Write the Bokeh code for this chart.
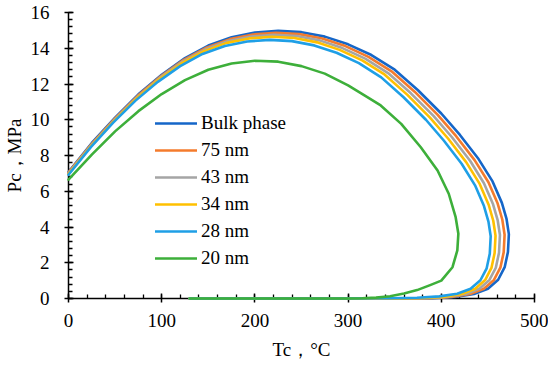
from bokeh.plotting import figure
from bokeh.models import Range1d, SingleIntervalTicker, Legend, LegendItem
from bokeh.embed import file_html
from bokeh.resources import INLINE

# ---- data ----
bulk_T = [0, 25, 50, 75, 100, 125, 150, 175, 200, 225, 250, 275, 300, 325, 350, 375, 400, 420, 440, 455, 465, 470, 472.5, 471.5, 468, 461, 450, 435, 415, 390, 360, 300, 130]
bulk_P = [7.07, 8.70, 10.12, 11.42, 12.52, 13.45, 14.15, 14.62, 14.88, 14.97, 14.90, 14.65, 14.22, 13.62, 12.80, 11.65, 10.35, 9.15, 7.80, 6.55, 5.35, 4.45, 3.60, 2.60, 1.75, 1.05, 0.55, 0.25, 0.08, 0.02, 0.005, 0.0, 0.0]

nm75_T = [0, 24.76, 49.52, 74.27, 99.03, 123.79, 148.55, 173.30, 198.06, 222.82, 247.58, 272.33, 297.09, 321.85, 346.61, 371.36, 396.12, 415.93, 435.73, 450.59, 460.49, 465.44, 467.92, 466.93, 463.46, 456.52, 445.64, 430.78, 410.97, 386.22, 356.51, 297.09, 130]
nm75_P = [7.04, 8.64, 10.05, 11.34, 12.43, 13.35, 14.05, 14.51, 14.77, 14.86, 14.79, 14.54, 14.12, 13.52, 12.71, 11.57, 10.27, 9.08, 7.74, 6.50, 5.31, 4.42, 3.57, 2.58, 1.74, 1.04, 0.55, 0.25, 0.08, 0.02, 0.005, 0.0, 0.0]

nm43_T = [0, 24.49, 48.99, 73.48, 97.97, 122.46, 146.96, 171.45, 195.94, 220.43, 244.93, 269.42, 293.91, 318.40, 342.90, 367.39, 391.88, 411.47, 431.07, 445.76, 455.56, 460.46, 462.91, 461.93, 458.50, 451.64, 440.87, 426.17, 406.58, 382.08, 352.69, 293.91, 130]
nm43_P = [7.00, 8.58, 9.97, 11.25, 12.34, 13.25, 13.94, 14.41, 14.66, 14.75, 14.68, 14.44, 14.01, 13.42, 12.61, 11.48, 10.20, 9.02, 7.69, 6.45, 5.27, 4.39, 3.55, 2.56, 1.72, 1.04, 0.55, 0.25, 0.08, 0.02, 0.005, 0.0, 0.0]

nm34_T = [0, 24.24, 48.49, 72.73, 96.97, 121.21, 145.46, 169.70, 193.94, 218.18, 242.43, 266.67, 290.91, 315.15, 339.40, 363.64, 387.88, 407.27, 426.67, 441.21, 450.91, 455.76, 458.18, 457.21, 453.82, 447.03, 436.37, 421.82, 402.43, 378.18, 349.09, 290.91, 130]
nm34_P = [6.96, 8.53, 9.91, 11.18, 12.25, 13.15, 13.84, 14.30, 14.55, 14.64, 14.57, 14.33, 13.91, 13.32, 12.52, 11.39, 10.12, 8.95, 7.63, 6.41, 5.23, 4.35, 3.52, 2.54, 1.71, 1.03, 0.55, 0.25, 0.09, 0.025, 0.007, 0.0, 0.0]

nm28_T = [0, 23.97, 47.94, 71.90, 95.87, 119.84, 143.81, 167.77, 191.74, 215.71, 239.68, 263.64, 287.61, 311.58, 335.55, 359.51, 383.48, 402.65, 421.83, 436.21, 445.80, 450.59, 452.99, 452.03, 448.67, 441.96, 431.42, 417.03, 397.86, 373.89, 345.13, 287.61, 130]
nm28_P = [6.92, 8.47, 9.84, 11.07, 12.12, 13.00, 13.68, 14.13, 14.38, 14.47, 14.40, 14.16, 13.75, 13.17, 12.37, 11.26, 10.00, 8.84, 7.54, 6.33, 5.17, 4.30, 3.48, 2.51, 1.69, 1.02, 0.55, 0.27, 0.12, 0.04, 0.01, 0.0, 0.0]

nm20_T = [0, 25, 50, 75, 100, 125, 150, 175, 200, 225, 250, 275, 300, 318, 335, 357, 378, 396, 408, 415.4, 418.3, 417.2, 412, 400, 388, 374, 360, 345, 330, 315, 300, 130]
nm20_P = [6.65, 8.05, 9.35, 10.48, 11.44, 12.22, 12.80, 13.15, 13.30, 13.25, 13.00, 12.58, 11.92, 11.35, 10.80, 9.77, 8.46, 7.16, 5.86, 4.55, 3.62, 2.69, 1.75, 1.00, 0.75, 0.47, 0.28, 0.13, 0.05, 0.015, 0.0, 0.0]

series_names = ["Bulk phase", "75 nm", "43 nm", "34 nm", "28 nm", "20 nm"]
series_T = [bulk_T, nm75_T, nm43_T, nm34_T, nm28_T, nm20_T]
series_P = [bulk_P, nm75_P, nm43_P, nm34_P, nm28_P, nm20_P]
series_colors = ["#1566C8", "#F47B2C", "#A5A5A5", "#FFC000", "#1F9FE6", "#3DAF3A"]

x_ticks_interval = 100
y_ticks_interval = 2

FONT = "Liberation Serif"
FS = "19px"

p = figure(width=548, height=365, output_backend="svg", toolbar_location=None,
           x_range=Range1d(0, 500), y_range=Range1d(0, 16),
           min_border_left=67, min_border_right=14, min_border_top=12, min_border_bottom=67)
p.outline_line_color = None
p.xgrid.visible = False
p.ygrid.visible = False
p.background_fill_color = "white"
p.border_fill_color = "white"

items = []
for name, xs, ys, col in zip(series_names, series_T, series_P, series_colors):
    r = p.line(xs, ys, line_color=col, line_width=2.6, line_join="round", line_cap="round", level="overlay")
    items.append(LegendItem(label=name, renderers=[r]))

for ax, interval in ((p.xaxis[0], x_ticks_interval), (p.yaxis[0], y_ticks_interval)):
    ax.ticker = SingleIntervalTicker(interval=interval, num_minor_ticks=5)
    ax.axis_line_color = "black"
    ax.axis_line_width = 1.5
    ax.major_tick_line_color = "black"
    ax.major_tick_line_width = 1.5
    ax.minor_tick_line_color = "black"
    ax.minor_tick_line_width = 1.3
    ax.major_tick_in = 5
    ax.major_tick_out = 4
    ax.minor_tick_in = 4
    ax.minor_tick_out = 0
    ax.major_label_text_font = FONT
    ax.major_label_text_font_size = FS
    ax.major_label_text_color = "black"
    ax.axis_label_text_font = FONT
    ax.axis_label_text_font_size = FS
    ax.axis_label_text_font_style = "normal"
    ax.axis_label_text_color = "black"

p.xaxis[0].axis_label = "Tc，°C"
p.yaxis[0].axis_label = "Pc，MPa"
p.xaxis[0].major_label_standoff = 11
p.yaxis[0].major_label_standoff = 15
p.xaxis[0].axis_label_standoff = 9
p.yaxis[0].axis_label_standoff = 3

legend = Legend(items=items, location=(87, 29), padding=0, margin=0,
                border_line_color=None, background_fill_alpha=0,
                glyph_width=42, glyph_height=20, label_height=20, spacing=5,
                label_standoff=4, label_text_font=FONT, label_text_font_size=FS,
                label_text_color="black")
p.add_layout(legend, "center")

open("out.html", "w").write(file_html(p, INLINE))
